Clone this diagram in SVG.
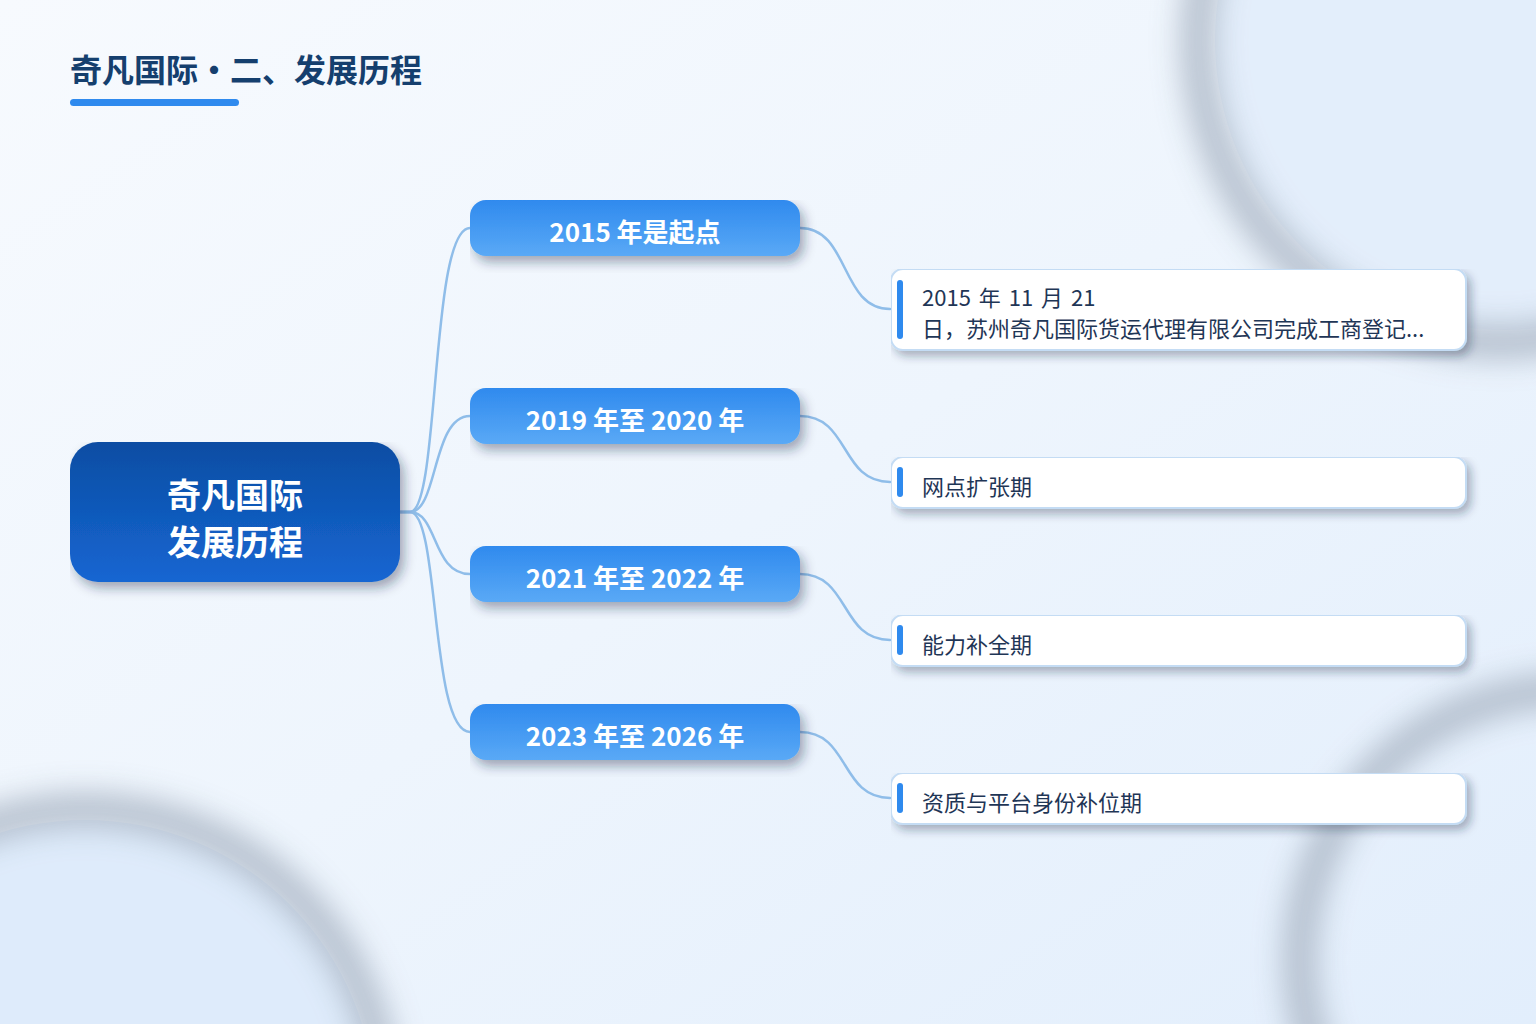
<svg xmlns="http://www.w3.org/2000/svg" width="1536" height="1024" viewBox="0 0 1536 1024">
<defs>
<linearGradient id="bg" x1="0" y1="0" x2="1" y2="1">
<stop offset="0" stop-color="#f7fafe"/>
<stop offset="0.5" stop-color="#eef5fd"/>
<stop offset="1" stop-color="#e2eefc"/>
</linearGradient>
<linearGradient id="rootG" x1="0" y1="0" x2="0" y2="1">
<stop offset="0" stop-color="#0c4da3"/>
<stop offset="1" stop-color="#1566d2"/>
</linearGradient>
<linearGradient id="brG" x1="0" y1="0" x2="0" y2="1">
<stop offset="0" stop-color="#2f8aee"/>
<stop offset="1" stop-color="#5aa9f6"/>
</linearGradient>
<filter id="ringBlur" x="-50%" y="-50%" width="200%" height="200%">
<feGaussianBlur stdDeviation="15"/>
</filter>
<filter id="sh" x="0" y="0" width="1.08" height="1.3">
<feDropShadow dx="4" dy="6" stdDeviation="6" flood-color="#1a2b45" flood-opacity="0.4"/>
</filter>
<filter id="shL" x="0" y="0" width="1.04" height="1.35">
<feDropShadow dx="4" dy="5" stdDeviation="5" flood-color="#1a2b45" flood-opacity="0.35"/>
</filter>
</defs>
<style>
.title{font-family:"Noto Sans CJK SC","Noto Sans",sans-serif;font-weight:700;font-size:32px;fill:#153f6e}
.rootT{font-family:"Noto Sans CJK SC","Noto Sans",sans-serif;font-weight:700;font-size:34px;fill:#ffffff}
.brT{font-family:"Noto Sans CJK SC","Noto Sans",sans-serif;font-weight:700;font-size:26px;fill:#ffffff}
.lfT{font-family:"Noto Sans CJK SC","Noto Sans",sans-serif;font-weight:400;font-size:22px;fill:#1f3656}
.leaf{fill:#ffffff;stroke:#c4dcf4;stroke-width:2}
.acc{fill:#2f8aee}
.con{fill:none;stroke:#8fbde9;stroke-width:2.5;stroke-linecap:round}
</style>
<rect width="1536" height="1024" fill="url(#bg)"/>
<circle cx="1505" cy="40" r="290" fill="#e3eefb"/>
<circle cx="85" cy="1110" r="290" fill="#deebfb"/>
<g filter="url(#ringBlur)" fill="none" stroke="#aeb9c8" stroke-width="34" opacity="0.9">
<circle cx="1500" cy="40" r="302"/>
<circle cx="85" cy="1110" r="300"/>
<circle cx="1570" cy="960" r="270"/>
</g>
<g id="title">
<text class="title" x="70" y="82">奇凡国际·二、发展历程</text>
<rect x="70" y="99" width="169" height="7" rx="3.5" fill="#2f8aee"/>
</g>
<g id="connectors">
<path class="con" d="M400 512 H410 C440 512 430 228 470 228"/>
<path class="con" d="M400 512 H410 C438 512 432 416 470 416"/>
<path class="con" d="M400 512 H410 C438 512 432 574 470 574"/>
<path class="con" d="M400 512 H410 C440 512 430 732 470 732"/>
<path class="con" d="M800 228 C850 228 840 309 890 309"/>
<path class="con" d="M800 416 C850 416 840 482 890 482"/>
<path class="con" d="M800 574 C850 574 840 640 890 640"/>
<path class="con" d="M800 732 C850 732 840 798 890 798"/>
</g>
<g id="root">
<rect x="70" y="442" width="330" height="140" rx="28" fill="url(#rootG)" filter="url(#sh)"/>
<text class="rootT" x="235" y="508" text-anchor="middle">奇凡国际</text>
<text class="rootT" x="235" y="555" text-anchor="middle">发展历程</text>
</g>
<g id="b1">
<rect x="470" y="200" width="330" height="56" rx="16" fill="url(#brG)" filter="url(#sh)"/>
<text class="brT" x="635" y="242" text-anchor="middle">2015 年是起点</text>
</g>
<g id="b2">
<rect x="470" y="388" width="330" height="56" rx="16" fill="url(#brG)" filter="url(#sh)"/>
<text class="brT" x="635" y="430" text-anchor="middle">2019 年至 2020 年</text>
</g>
<g id="b3">
<rect x="470" y="546" width="330" height="56" rx="16" fill="url(#brG)" filter="url(#sh)"/>
<text class="brT" x="635" y="588" text-anchor="middle">2021 年至 2022 年</text>
</g>
<g id="b4">
<rect x="470" y="704" width="330" height="56" rx="16" fill="url(#brG)" filter="url(#sh)"/>
<text class="brT" x="635" y="746" text-anchor="middle">2023 年至 2026 年</text>
</g>
<g id="l1">
<rect class="leaf" x="891" y="269" width="575" height="81" rx="12" filter="url(#shL)"/>
<rect class="acc" x="897" y="280" width="6" height="59" rx="3"/>
<text class="lfT" x="922" y="306" word-spacing="3">2015 年 11 月 21</text>
<text class="lfT" x="922" y="337">日，苏州奇凡国际货运代理有限公司完成工商登记...</text>
</g>
<g id="l2">
<rect class="leaf" x="891" y="457" width="575" height="51" rx="12" filter="url(#shL)"/>
<rect class="acc" x="897" y="467" width="6" height="30" rx="3"/>
<text class="lfT" x="922" y="495">网点扩张期</text>
</g>
<g id="l3">
<rect class="leaf" x="891" y="615" width="575" height="51" rx="12" filter="url(#shL)"/>
<rect class="acc" x="897" y="625" width="6" height="30" rx="3"/>
<text class="lfT" x="922" y="653">能力补全期</text>
</g>
<g id="l4">
<rect class="leaf" x="891" y="773" width="575" height="51" rx="12" filter="url(#shL)"/>
<rect class="acc" x="897" y="783" width="6" height="30" rx="3"/>
<text class="lfT" x="922" y="811">资质与平台身份补位期</text>
</g>
</svg>
